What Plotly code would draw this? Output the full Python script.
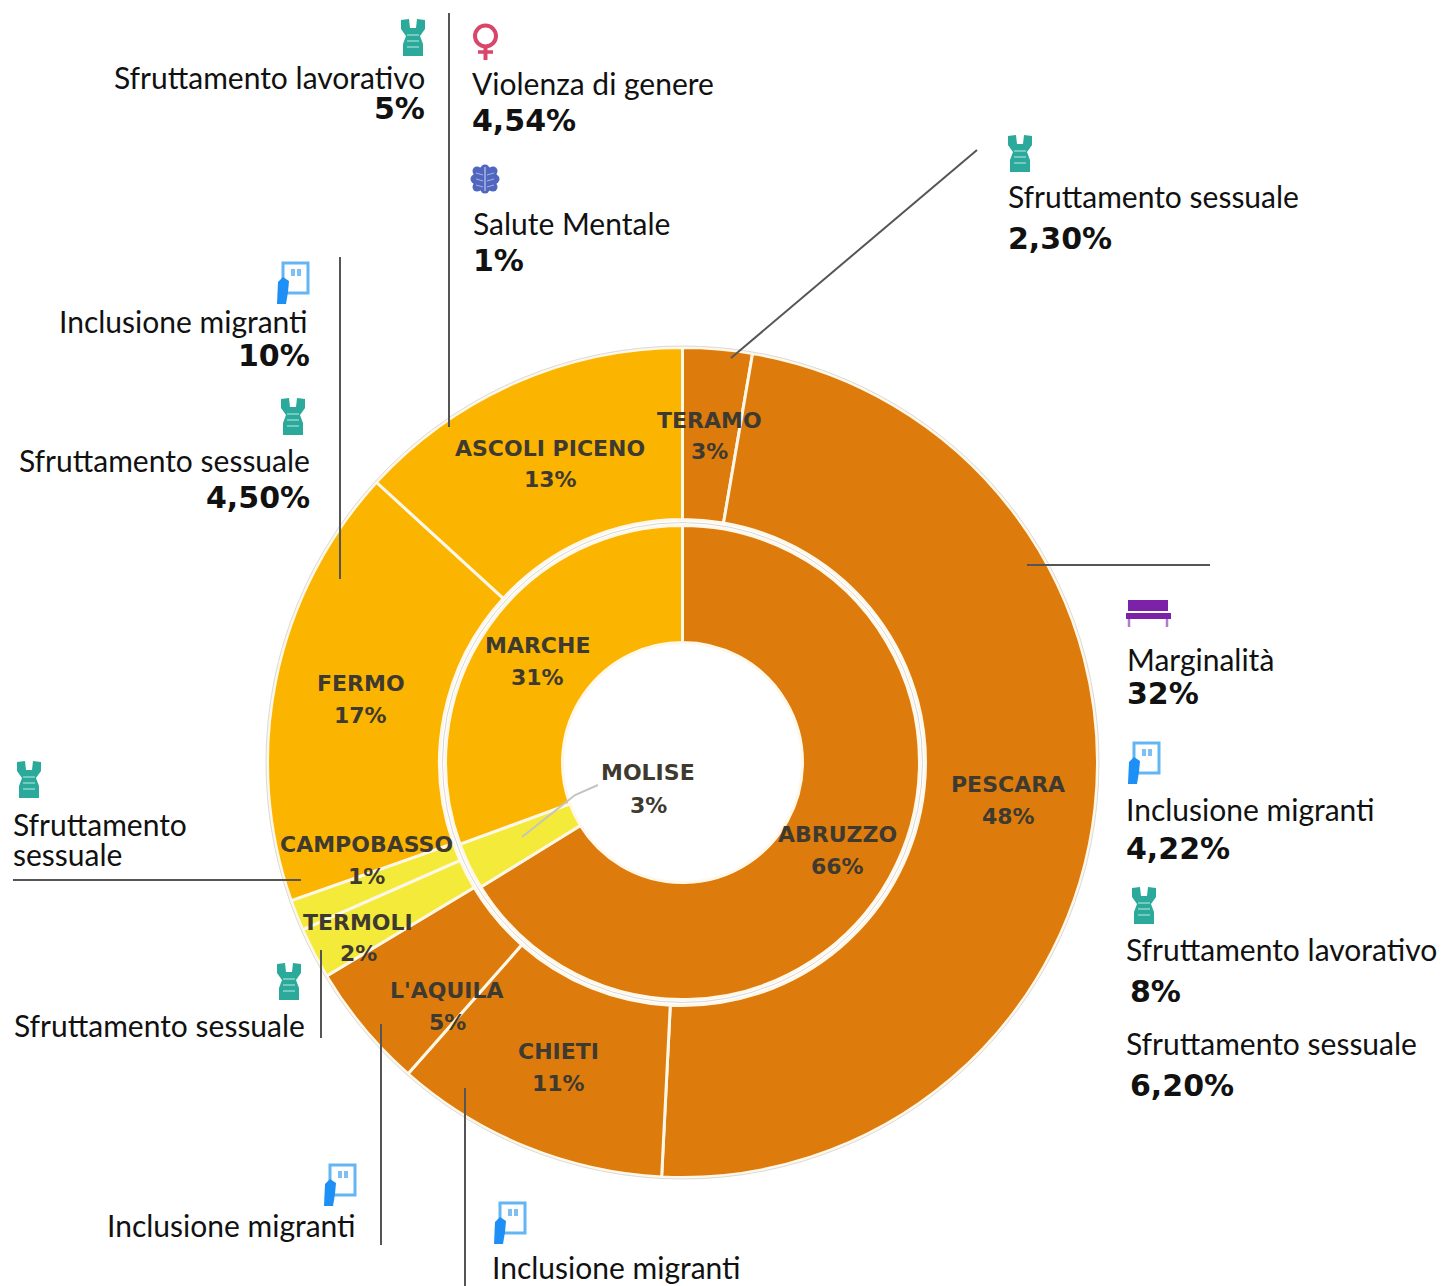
import plotly.graph_objects as go

W, H = 1443, 1286
CX, CY = 682.5, 762.5

ORANGE, AMBER, YELLOW = "#DD7C0C", "#FBB500", "#F4EA3A"

# ---- data ----
outer_names = ["TERAMO", "PESCARA", "CHIETI", "L'AQUILA", "TERMOLI", "CAMPOBASSO", "FERMO", "ASCOLI PICENO"]
outer_values = [2.7, 48.1, 10.7, 4.9, 2.0, 1.2, 17.2, 13.2]
outer_colors = [ORANGE, ORANGE, ORANGE, ORANGE, YELLOW, YELLOW, AMBER, AMBER]
inner_names = ["ABRUZZO", "MOLISE", "MARCHE"]
inner_values = [66.2, 3.2, 30.6]
inner_colors = [ORANGE, YELLOW, AMBER]

label_pos = {
    "TERAMO": (709, 420), "PESCARA": (1008, 784), "CHIETI": (558, 1051), "L'AQUILA": (447, 990),
    "TERMOLI": (358, 922), "CAMPOBASSO": (366, 844), "FERMO": (361, 683), "ASCOLI PICENO": (550, 448),
    "ABRUZZO": (837, 834), "MOLISE": (648, 773), "MARCHE": (537, 645),
}

# text, x, y, anchor, bold
notes = [
    ("Sfruttamento lavorativo", 425, 78, "right", False), ("5%", 425, 109, "right", True),
    ("Violenza di genere", 472, 84, "left", False), ("4,54%", 472, 120, "left", True),
    ("Salute Mentale", 473, 224, "left", False), ("1%", 473, 260, "left", True),
    ("Sfruttamento sessuale", 1008, 197, "left", False), ("2,30%", 1008, 238, "left", True),
    ("Inclusione migranti", 308, 322, "right", False), ("10%", 310, 356, "right", True),
    ("Sfruttamento sessuale", 310, 461, "right", False), ("4,50%", 310, 497, "right", True),
    ("Marginalità", 1127, 660, "left", False), ("32%", 1127, 693, "left", True),
    ("Inclusione migranti", 1126, 810, "left", False), ("4,22%", 1126, 849, "left", True),
    ("Sfruttamento lavorativo", 1126, 950, "left", False), ("8%", 1130, 991, "left", True),
    ("Sfruttamento sessuale", 1126, 1044, "left", False), ("6,20%", 1130, 1085, "left", True),
    ("Sfruttamento", 13, 825, "left", False), ("sessuale", 13, 855, "left", False),
    ("Sfruttamento sessuale", 305, 1026, "right", False),
    ("Inclusione migranti", 356, 1226, "right", False),
    ("Inclusione migranti", 492, 1268, "left", False),
]

leaders = [
    [(449, 13), (449, 427)], [(340, 257), (340, 579)], [(977, 150), (731, 358)],
    [(1027, 565), (1210, 565)], [(13, 880), (301, 880)], [(321, 950), (321, 1038)],
    [(381, 1024), (381, 1245)], [(465, 1088), (465, 1286)],
]
vest_at = [(401, 19), (1008, 135), (281, 398), (1132, 887), (17, 761), (277, 963)]
board_at = [(277, 262), (1128, 742), (324, 1164), (494, 1202)]


def px(x):
    return x / W


def py(y):
    return 1 - y / H


def path(points, close=True):
    s = "M" + " L".join(f"{px(x):.5f},{py(y):.5f}" for x, y in points)
    return s + (" Z" if close else "")


def circle(cx, cy, r, **kw):
    return dict(type="circle", xref="paper", yref="paper", x0=px(cx - r), x1=px(cx + r),
                y0=py(cy + r), y1=py(cy - r), **kw)


def rect(x0, y0, x1, y1, **kw):
    return dict(type="rect", xref="paper", yref="paper", x0=px(x0), x1=px(x1), y0=py(y1), y1=py(y0), **kw)


def line(pts, color="#555555", width=2):
    return dict(type="path", xref="paper", yref="paper", path=path(pts, False),
                line=dict(color=color, width=width))


def vest(x, y):
    c = "#2BA99B"
    body = [(0, 1), (8, 0), (9, 9), (15, 9), (16, 0), (24, 1), (24, 10), (19, 17), (22, 25), (22, 37),
            (2, 37), (2, 25), (5, 17), (0, 10)]
    out = [dict(type="path", xref="paper", yref="paper", path=path([(x + a, y + b) for a, b in body]),
                fillcolor=c, line=dict(width=0))]
    for b in (16, 22, 28):
        out.append(line([(x + 6, y + b), (x + 18, y + b)], "#8FD6CC", 1.5))
    return out


def board(x, y):
    out = [rect(x + 6, y + 1, x + 31, y + 31, line=dict(color="#63B5F3", width=3), fillcolor="rgba(255,255,255,0)")]
    out.append(rect(x + 14, y + 7, x + 18, y + 14, fillcolor="#7CC0F5", line=dict(width=0)))
    out.append(rect(x + 20, y + 7, x + 24, y + 14, fillcolor="#7CC0F5", line=dict(width=0)))
    hand = [(x + 1, y + 20), (x + 6, y + 15), (x + 12, y + 19), (x + 11, y + 30), (x + 9, y + 42), (x, y + 42)]
    out.append(dict(type="path", xref="paper", yref="paper", path=path(hand), fillcolor="#1E90F5", line=dict(width=0)))
    return out


def bench():
    c = "#7B22A8"
    return [
        rect(1128, 600, 1168, 611, fillcolor=c, line=dict(width=0)),
        rect(1126, 613, 1171, 619, fillcolor=c, line=dict(width=0)),
        line([(1129, 619), (1129, 627)], "#B07CCB", 2.5),
        line([(1167, 619), (1167, 627)], "#B07CCB", 2.5),
    ]


def venus():
    c = "#D9456B"
    return [
        circle(485.5, 36, 10.5, line=dict(color=c, width=4), fillcolor="rgba(255,255,255,0)"),
        line([(485.5, 47), (485.5, 60)], c, 4),
        line([(478, 52), (493, 52)], c, 3.5),
    ]


def brain():
    c = "#5166BE"
    s = [circle(485, 179, 12.5, fillcolor=c, line=dict(width=0))]
    for a, b in ((-8, -8), (0, -10), (8, -8), (-10, 0), (10, 0), (-8, 8), (0, 10), (8, 8)):
        s.append(circle(485 + a, 179 + b, 4.5, fillcolor=c, line=dict(width=0)))
    s.append(line([(485, 167), (485, 191)], "#A9B4E2", 1.5))
    for dy in (-6, 0, 6):
        s.append(line([(476, 179 + dy), (483, 179 + dy + 2)], "#A9B4E2", 1))
        s.append(line([(494, 179 + dy), (487, 179 + dy + 2)], "#A9B4E2", 1))
    return s


def ring(values, colors, names, r, r_in, width):
    return go.Pie(
        labels=names, values=values, sort=False, direction="clockwise", rotation=0,
        marker=dict(colors=colors, line=dict(color="#FFF7E8", width=width)),
        hole=r_in / r, textinfo="none", showlegend=False,
        domain=dict(x=[px(CX - r), px(CX + r)], y=[py(CY + r), py(CY - r)]),
    )


fig = go.Figure([
    ring(outer_values, outer_colors, outer_names, 415, 243, 3),
    ring(inner_values, inner_colors, inner_names, 237, 120, 3),
])

shapes = [
    circle(CX, CY, 416.5, line=dict(color="#DADADA", width=1), fillcolor="rgba(255,255,255,0)"),
    circle(CX, CY, 240, line=dict(color="#D4D8DE", width=1), fillcolor="rgba(255,255,255,0)"),
]
shapes += [line(p) for p in leaders]
shapes.append(line([(522, 837), (575, 795), (598, 785)], "#C4C4C4", 2))
for x, y in vest_at:
    shapes += vest(x, y)
for x, y in board_at:
    shapes += board(x, y)
shapes += bench() + venus() + brain()

annotations = []
for text, x, y, anchor, bold in notes:
    annotations.append(dict(
        text=text, x=px(x), y=py(y - (0 if bold else 1)), xref="paper", yref="paper", showarrow=False,
        xanchor=anchor, yanchor="middle", borderpad=0, borderwidth=0,
        font=dict(family="DejaVu Sans" if bold else "Lato", size=30,
                  color="#111111", weight="bold" if bold else "normal"),
    ))
for names, values in ((outer_names, outer_values), (inner_names, inner_values)):
    for n, v in zip(names, values):
        x, y = label_pos[n]
        for text, yy in ((n, y), (f"{round(v)}%", y + 32)):
            annotations.append(dict(
                text=text, x=px(x), y=py(yy), xref="paper", yref="paper", showarrow=False,
                xanchor="center", yanchor="middle", borderpad=0, borderwidth=0,
                font=dict(family="DejaVu Sans", size=22, color="#3F3A30", weight="bold"),
            ))

fig.update_layout(
    width=W, height=H, margin=dict(l=0, r=0, t=0, b=0, pad=0), autosize=False,
    paper_bgcolor="#FFFFFF", plot_bgcolor="#FFFFFF",
    shapes=shapes, annotations=annotations,
)
fig.write_html("out.html", config={"displayModeBar": False},
               post_script="document.body.style.margin='0';document.documentElement.style.overflow='hidden';")
